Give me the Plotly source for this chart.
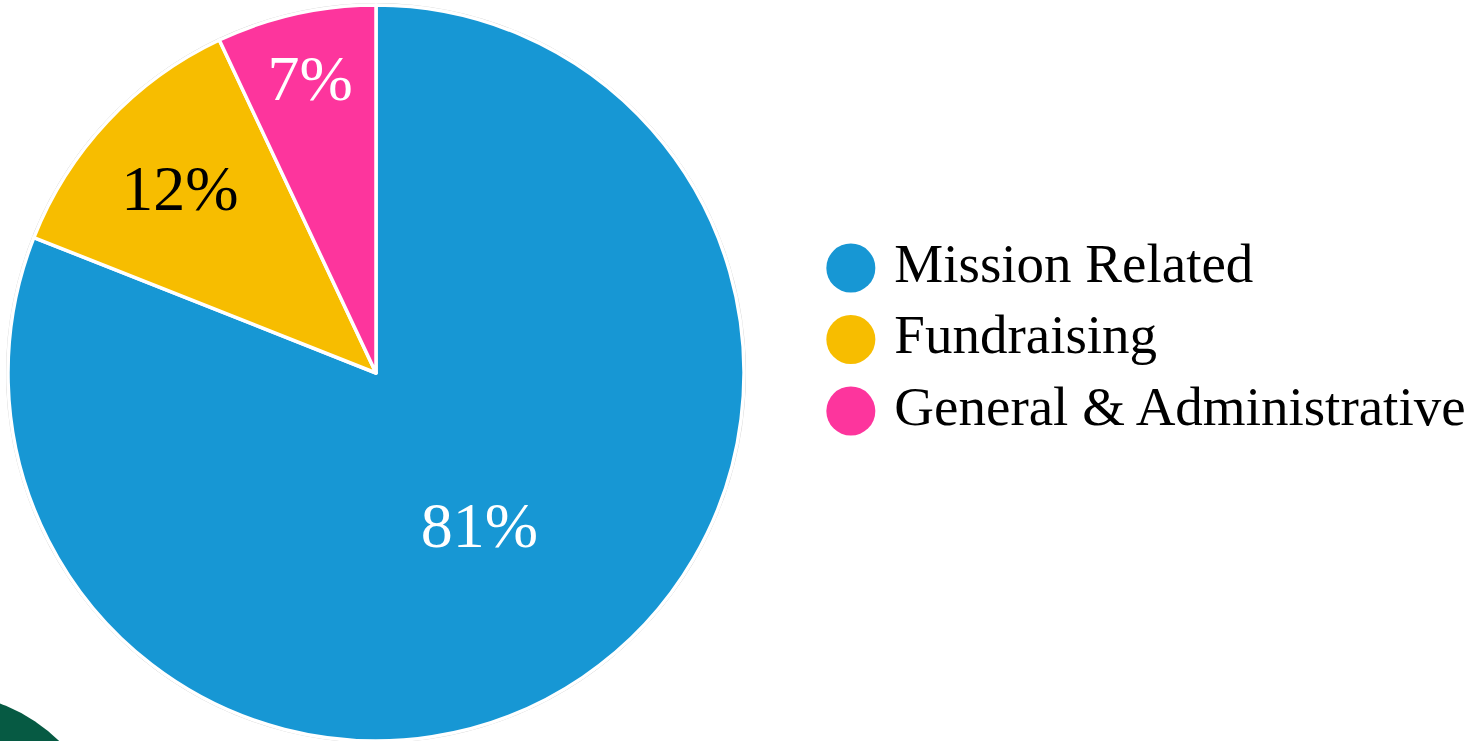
import plotly.graph_objects as go

categories = ["Mission Related", "Fundraising", "General & Administrative"]
values = [81, 12, 7]
colors = ["#1797d4", "#f7bd00", "#fd359d"]
text_colors = ["white", "black", "white"]

FONT = "Liberation Serif"
W, H = 1470, 741

fig = go.Figure()

fig.add_trace(go.Pie(
    labels=categories,
    values=values,
    marker=dict(colors=colors, line=dict(color="white", width=3.5)),
    sort=False,
    direction="clockwise",
    rotation=0,
    texttemplate="%{percent:.0%}",
    textposition="inside",
    insidetextorientation="horizontal",
    textfont=dict(family=FONT, size=64, color=text_colors),
    showlegend=False,
    domain=dict(x=[0.0, 752 / W], y=[0.0, 736 / H]),
    hoverinfo="label+percent",
))

# custom legend with large circular markers
n = len(categories)
legend_y = list(range(n - 1, -1, -1))
fig.add_trace(go.Scatter(
    x=[0] * n,
    y=legend_y,
    mode="markers",
    marker=dict(size=49, color=colors, symbol="circle"),
    showlegend=False,
    hoverinfo="skip",
))
fig.add_trace(go.Scatter(
    x=[0] * n,
    y=legend_y,
    mode="markers+text",
    marker=dict(size=68, color="rgba(0,0,0,0)"),
    text=categories,
    textposition="middle right",
    textfont=dict(family=FONT, size=55, color="black"),
    showlegend=False,
    hoverinfo="text",
))

fig.update_layout(
    width=W, height=H,
    margin=dict(l=0, r=0, t=0, b=0),
    paper_bgcolor="white",
    plot_bgcolor="rgba(0,0,0,0)",
    xaxis=dict(domain=[0.52, 1.0], range=[-0.1225, 0.8775], visible=False, fixedrange=True),
    yaxis=dict(domain=[0.0, 1.0], range=[-4.615, 5.748], visible=False, fixedrange=True),
    shapes=[
        dict(type="circle", xref="paper", yref="paper", layer="below",
             x0=(376 - 369.5) / W, x1=(376 + 369.5) / W,
             y0=(368 - 369.5) / H, y1=(368 + 369.5) / H,
             line=dict(color="#cfcfcf", width=1), fillcolor="rgba(0,0,0,0)"),
        dict(type="circle", xref="paper", yref="paper", layer="below",
             x0=(-58 - 167) / W, x1=(-58 + 167) / W,
             y0=(-119 - 167) / H, y1=(-119 + 167) / H,
             line=dict(width=0), fillcolor="#065a43"),
    ],
)

fig.write_html(
    "out.html",
    config={"displayModeBar": False},
    post_script="document.body.style.margin='0';document.body.style.overflow='hidden';",
)
